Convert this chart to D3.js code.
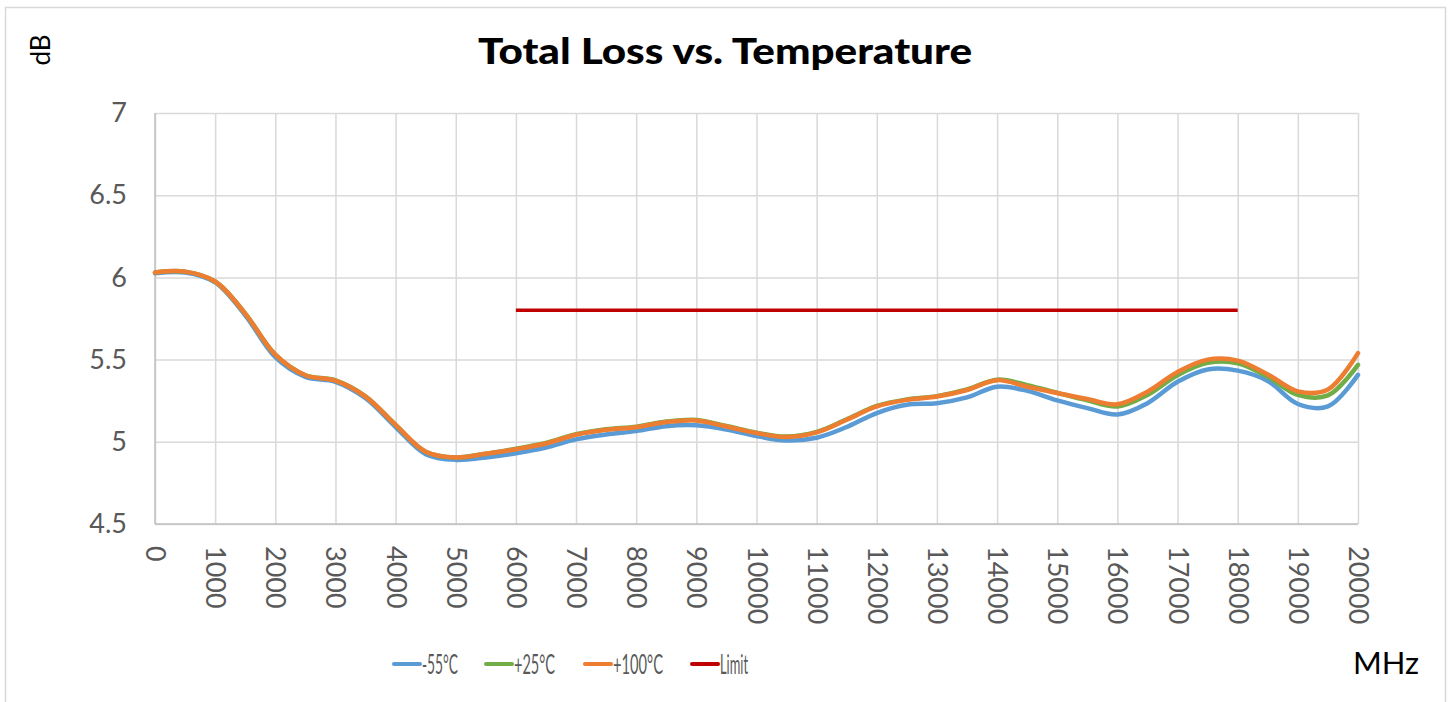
<!DOCTYPE html>
<html>
<head>
<meta charset="utf-8">
<script src="https://cdn.jsdelivr.net/npm/d3@7"></script>
<style>
  body { margin: 0; background: #fff; }
  svg { font-family: Lato, "Open Sans", sans-serif; }
</style>
</head>
<body>
<svg class="chart" width="1451" height="702"></svg>
<script>
var width = 1451,
	height = 702;

// frequency points (MHz)
var freqs = [0, 500, 1000, 1500, 2000, 2500, 3000, 3500, 4000, 4500, 5000,
	5500, 6000, 6500, 7000, 7500, 8000, 8500, 9000, 9500, 10000,
	10500, 11000, 11500, 12000, 12500, 13000, 13500, 14000, 14500, 15000,
	15500, 16000, 16500, 17000, 17500, 18000, 18500, 19000, 19500, 20000];

var lossM55 = [6.025, 6.03, 5.97, 5.77, 5.515, 5.395, 5.365, 5.265, 5.09, 4.925, 4.89,
	4.905, 4.93, 4.965, 5.015, 5.045, 5.065, 5.095, 5.10, 5.075, 5.035,
	5.008, 5.025, 5.09, 5.175, 5.225, 5.235, 5.27, 5.335, 5.31, 5.252,
	5.205, 5.166, 5.235, 5.365, 5.44, 5.433, 5.37, 5.23, 5.215, 5.407];

var loss25 = [6.03, 6.035, 5.975, 5.78, 5.53, 5.405, 5.374, 5.277, 5.103, 4.94, 4.905,
	4.928, 4.958, 4.993, 5.046, 5.076, 5.092, 5.123, 5.133, 5.096, 5.056,
	5.032, 5.06, 5.137, 5.218, 5.258, 5.278, 5.318, 5.378, 5.345, 5.298,
	5.252, 5.215, 5.285, 5.405, 5.48, 5.478, 5.395, 5.285, 5.282, 5.468];

var loss100 = [6.03, 6.035, 5.975, 5.78, 5.53, 5.405, 5.372, 5.275, 5.103, 4.94, 4.905,
	4.927, 4.955, 4.99, 5.043, 5.073, 5.089, 5.12, 5.13, 5.093, 5.053,
	5.029, 5.057, 5.134, 5.215, 5.255, 5.275, 5.315, 5.375, 5.335, 5.297,
	5.26, 5.228, 5.305, 5.425, 5.50, 5.494, 5.41, 5.307, 5.318, 5.539];

var limitFreqs = [6000, 18000];
var limitValues = [5.8, 5.8];

var xTicks = d3.range(0, 20001, 1000);
var yTicks = [4.5, 5, 5.5, 6, 6.5, 7];

var seriesNames = ['-55\u00B0C', '+25\u00B0C', '+100\u00B0C', 'Limit'];
var seriesColors = ['#5b9bd5', '#70ad47', '#ed7d31', '#c00000'];

var plotLeft = 155, plotRight = 1358, plotTop = 113, plotBottom = 524;

//Scales
var xScale = d3.scaleLinear()
			.domain([0, 20000])
			.range([plotLeft, plotRight]);

var yScale = d3.scaleLinear()
			.domain([4.5, 7])
			.range([plotBottom, plotTop]);

var svg = d3.select('.chart');

//Frame
svg.append('rect')
	.attr('x', 5.5)
	.attr('y', 7.5)
	.attr('width', 1440)
	.attr('height', 720)
	.attr('fill', 'none')
	.attr('stroke', '#d9d9d9')
	.attr('stroke-width', 1.5);

//Title
svg.append('text')
	.text('Total Loss vs. Temperature')
	.attr('x', 478)
	.attr('y', 64)
	.attr('textLength', 494)
	.attr('lengthAdjust', 'spacingAndGlyphs')
	.attr('font-size', 36)
	.attr('font-weight', 900)
	.attr('fill', '#000');

//Axis label dB
svg.append('text')
	.text('dB')
	.attr('transform', 'translate(50,50) rotate(-90)')
	.attr('text-anchor', 'middle')
	.attr('font-size', 26)
	.attr('fill', '#000');

//Axes / grid
var xAxisGen = d3.axisBottom(xScale)
			.tickValues(xTicks)
			.tickSize(-(plotBottom - plotTop))
			.tickFormat(d3.format('d'));

var yAxisGen = d3.axisLeft(yScale)
			.tickValues(yTicks)
			.tickSize(-(plotRight - plotLeft))
			.tickPadding(28)
			.tickFormat(d => String(d));

var xAxis = svg.append('g')
	.attr('transform', 'translate(0,' + plotBottom + ')')
	.call(xAxisGen);

var yAxis = svg.append('g')
	.attr('transform', 'translate(' + plotLeft + ',0)')
	.call(yAxisGen);

[xAxis, yAxis].forEach(function(ax){
	ax.select('.domain').remove();
	ax.selectAll('.tick line')
		.attr('stroke', '#d9d9d9')
		.attr('stroke-width', 1.5);
	ax.selectAll('.tick text')
		.attr('fill', '#595959')
		.attr('font-family', 'Lato, "Open Sans", sans-serif');
});

xAxis.selectAll('.tick text')
	.attr('font-size', 27)
	.attr('transform', 'rotate(90)')
	.attr('x', 22)
	.attr('y', 0)
	.attr('dy', '0.35em')
	.attr('text-anchor', 'start');

yAxis.selectAll('.tick text')
	.attr('font-size', 27);

//left & bottom axis lines
svg.append('line')
	.attr('x1', xScale(0)).attr('x2', xScale(0))
	.attr('y1', plotTop).attr('y2', plotBottom)
	.attr('stroke', '#bfbfbf').attr('stroke-width', 1.5);
svg.append('line')
	.attr('x1', plotLeft).attr('x2', plotRight)
	.attr('y1', yScale(4.5)).attr('y2', yScale(4.5))
	.attr('stroke', '#bfbfbf').attr('stroke-width', 1.5);

//Lines
var lineGen = d3.line()
	.x(d => xScale(d[0]))
	.y(d => yScale(d[1]))
	.curve(d3.curveCatmullRom.alpha(0.5));

var series = [lossM55, loss25, loss100];

series.forEach(function(vals, i){
	svg.append('path')
		.datum(freqs.map((f, j) => [f, vals[j]]))
		.attr('d', lineGen)
		.attr('fill', 'none')
		.attr('stroke', seriesColors[i])
		.attr('stroke-width', 4.5)
		.attr('stroke-linejoin', 'round')
		.attr('stroke-linecap', 'round');
});

svg.append('path')
	.datum(limitFreqs.map((f, j) => [f, limitValues[j]]))
	.attr('d', d3.line().x(d => xScale(d[0])).y(d => yScale(d[1])))
	.attr('fill', 'none')
	.attr('stroke', seriesColors[3])
	.attr('stroke-width', 3.5);

//Legend
var legendX = [394, 486, 585, 692];
var legendTextW = [36, 41, 50, 28];
var legend = svg.selectAll('.legend')
	.data(seriesNames)
	.enter()
	.append('g')
	.attr('class', 'legend')
	.attr('transform', (d, i) => 'translate(' + legendX[i] + ',664)');

legend.append('line')
	.attr('x1', 0).attr('x2', 26)
	.attr('y1', 0).attr('y2', 0)
	.attr('stroke', (d, i) => seriesColors[i])
	.attr('stroke-width', 4)
	.attr('stroke-linecap', 'round');

legend.append('text')
	.text(d => d)
	.attr('x', 28)
	.attr('y', 10)
	.attr('font-size', 26)
	.attr('textLength', (d, i) => legendTextW[i])
	.attr('lengthAdjust', 'spacingAndGlyphs')
	.attr('fill', '#595959');

//MHz
svg.append('text')
	.text('MHz')
	.attr('x', 1353)
	.attr('y', 674)
	.attr('font-size', 31)
	.attr('fill', '#000');
</script>
</body>
</html>
